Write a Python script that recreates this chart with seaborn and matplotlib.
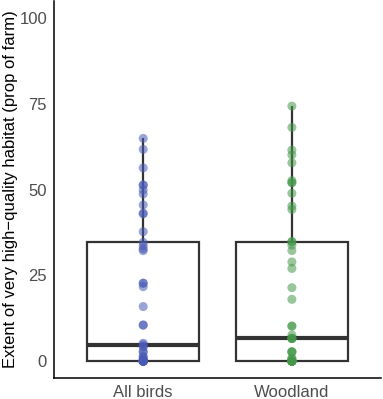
import seaborn as sns
import matplotlib.pyplot as plt
import pandas as pd

sns.set_style("white")
plt.rcParams['font.family'] = ['Liberation Sans', 'DejaVu Sans']

# values (many points overlap near zero)
all_birds = [0] * 14 + [0.5, 0.5, 1.3, 1.3, 2.7, 2.7, 4.2, 4.2, 4.8,
             5.2, 10.5, 10.5, 15.9, 21.7, 22.7, 22.7, 32.2, 32.7, 33.6, 34.6,
             37.7, 42.9, 43.1, 45.5, 48.7, 49.9, 51.3, 51.3, 56.3, 61.7, 64.9]
woodland = [0] * 14 + [0.8, 0.8, 2.7, 2.7, 2.7, 6.6, 6.6, 6.6, 6.6,
            7.6, 10.2, 10.2, 18.0, 21.4, 27.0, 28.9, 32.2, 33.8, 34.8, 34.8,
            44.2, 45.2, 48.9, 52.0, 52.0, 52.6, 57.8, 60.1, 61.5, 68.1, 74.3]
groups = ["All birds", "Woodland"]
colors = ["#4A5AB5", "#45984A"]

df = pd.DataFrame({
    "group": [groups[0]] * len(all_birds) + [groups[1]] * len(woodland),
    "value": all_birds + woodland,
})

fig = plt.figure(figsize=(3.83, 3.99), dpi=100)
ax = fig.add_axes([0.141, 0.052, 0.854, 0.946])

sns.boxplot(data=df, x="group", y="value", order=groups, width=0.75,
            color="white", linecolor="#333333", linewidth=1.6, whis=3,
            showfliers=False, showcaps=False, ax=ax,
            medianprops=dict(linewidth=3, color="#333333"))
sns.stripplot(data=df, x="group", y="value", order=groups, hue="group",
              palette=colors, jitter=False, size=6.5, alpha=0.55,
              linewidth=0, legend=False, ax=ax, zorder=3)

ax.set_xlim(-0.6, 1.6)
ax.set_ylim(-5, 105)
ax.set_yticks([0, 25, 50, 75, 100])
ax.set_xlabel("")
ax.set_ylabel("Extent of very high\u2212quality habitat (prop of farm)", fontsize=12, color="black", labelpad=1)
ax.tick_params(axis="both", length=3, width=0.8, color="#333333", labelsize=12, labelcolor="#4d4d4d", pad=2)
for side in ["top", "right"]:
    ax.spines[side].set_visible(False)
for side in ["left", "bottom"]:
    ax.spines[side].set_color("black")
    ax.spines[side].set_linewidth(1.1)

fig.savefig("out.png", dpi=100)
